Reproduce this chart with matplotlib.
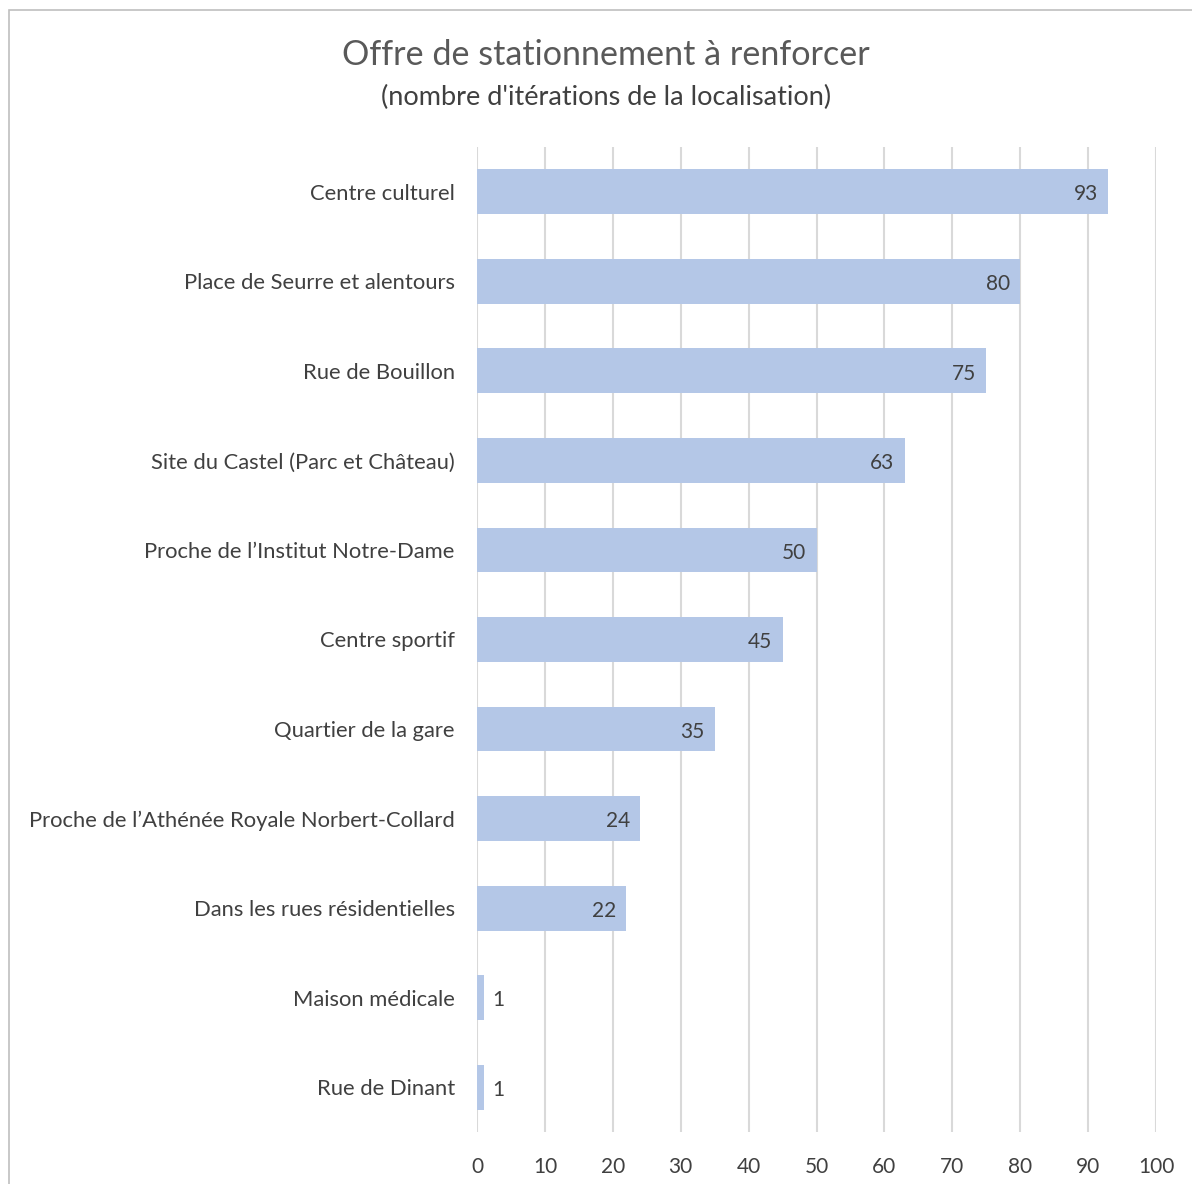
import matplotlib
matplotlib.use('Agg')
import matplotlib.pyplot as plt
from matplotlib.patches import Rectangle

# ─── Donnees ───────────────────────────────────────────────
categories = [
    "Centre culturel",
    "Place de Seurre et alentours",
    "Rue de Bouillon",
    "Site du Castel (Parc et Château)",
    "Proche de l’Institut Notre-Dame",
    "Centre sportif",
    "Quartier de la gare",
    "Proche de l’Athénée Royale Norbert-Collard",
    "Dans les rues résidentielles",
    "Maison médicale",
    "Rue de Dinant",
]
values = [93, 80, 75, 63, 50, 45, 35, 24, 22, 1, 1]
xticks = list(range(0, 101, 10))

BAR = '#B4C7E7'
GRID = '#D9D9D9'
TXT = '#404040'

plt.rcParams['font.family'] = ['Lato', 'DejaVu Sans']

fig = plt.figure(figsize=(11.92, 11.84), dpi=100)
ax = fig.add_axes([477 / 1192, 1 - 1132 / 1184, 679 / 1192, 985 / 1184])

n = len(categories)
ypos = list(range(n - 1, -1, -1))
ax.barh(ypos, values, height=0.5, color=BAR, zorder=2)

for y, v in zip(ypos, values):
    if v >= 10:
        ax.text(v - 1.5, y - 0.03, str(v), ha='right', va='center',
                fontsize=15, color=TXT, zorder=3)
    else:
        ax.text(v + 1.2, y - 0.03, str(v), ha='left', va='center',
                fontsize=15, color=TXT, zorder=3)

ax.set_xlim(0, 100)
ax.set_ylim(-0.5, n - 0.5)
ax.set_xticks(xticks)
ax.set_xticklabels([str(t) for t in xticks], fontsize=15, color=TXT)
ax.set_yticks(ypos)
ax.set_yticklabels(categories, fontsize=15.8, color=TXT)
ax.tick_params(axis='both', length=0)
ax.tick_params(axis='x', pad=18)
ax.tick_params(axis='y', pad=16)
ax.grid(axis='x', color=GRID, lw=1.5, zorder=0)
ax.set_axisbelow(True)
for s in ax.spines.values():
    s.set_visible(False)

fig.text(606 / 1192, 1 - 55 / 1184, "Offre de stationnement à renforcer",
         ha='center', va='center', fontsize=24.6, color='#595959')
fig.text(606 / 1192, 1 - 97 / 1184, "(nombre d'itérations de la localisation)",
         ha='center', va='center', fontsize=19.5, color='#404040')

# cadre gris du graphique (coupe a droite et en bas)
fig.patches.append(Rectangle((9 / 1192, -0.05), 1.2, 1 - 10 / 1184 + 0.05,
                             transform=fig.transFigure, fill=False,
                             ec='#BFBFBF', lw=1.2))

fig.savefig('out.png', dpi=100)
